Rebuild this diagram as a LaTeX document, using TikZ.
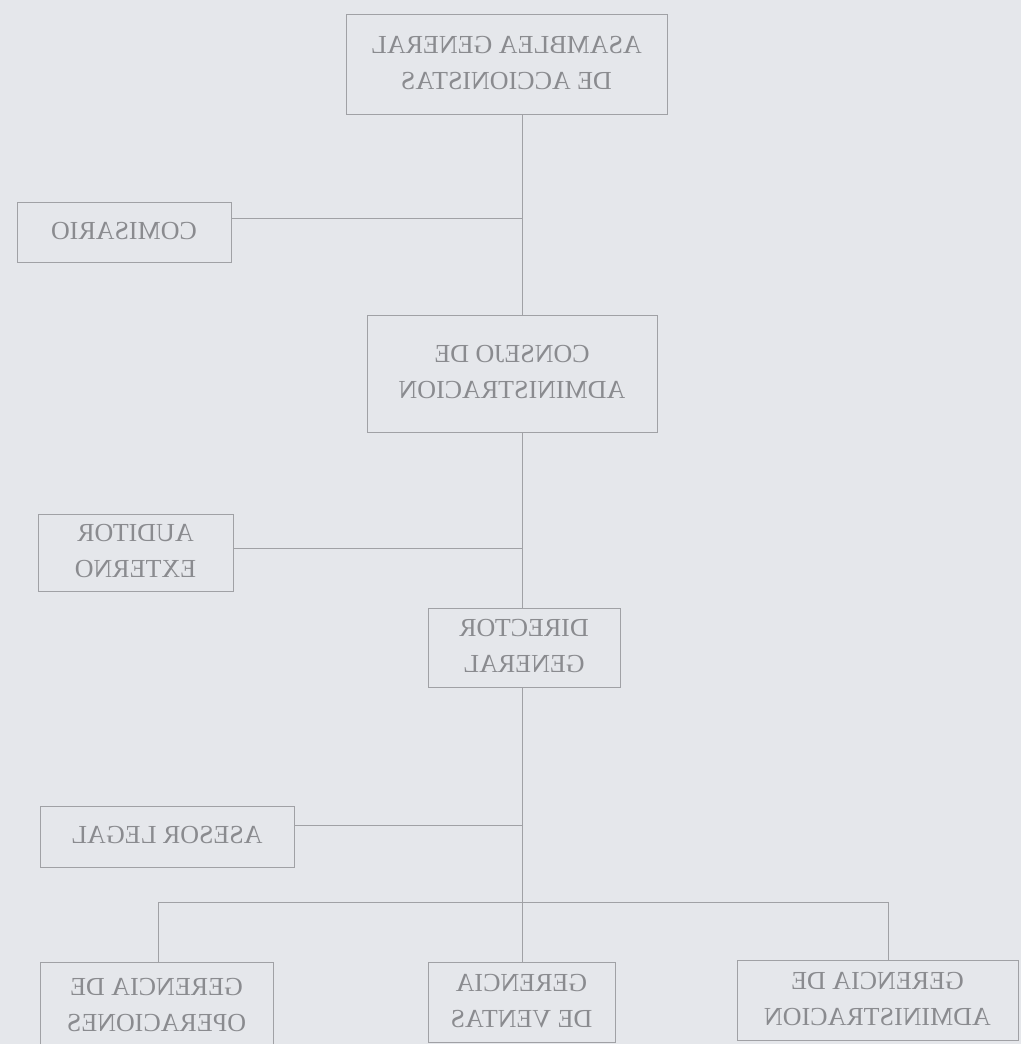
\documentclass[tikz,border=0pt]{standalone}
\usepackage{fontspec}
\setmainfont{Liberation Serif}
\usepackage{graphicx}
\definecolor{bgc}{RGB}{229,231,235}
\definecolor{linec}{RGB}{160,161,165}
\definecolor{textc}{RGB}{138,139,143}
\newcommand\mirr[1]{\reflectbox{\begin{tabular}{@{}c@{}}#1\end{tabular}}}
\begin{document}
\begin{tikzpicture}[x=1pt,y=-1pt,
  box/.style={draw=linec, line width=1pt, text=textc, font=\fontsize{26}{36}\selectfont, align=center, inner sep=0pt},
  conn/.style={draw=linec, line width=1pt}]
\fill[bgc] (0,0) rectangle (1021,1044);
\useasboundingbox (0,0) rectangle (1021,1044);
% nodes
\node[box, minimum width=321pt, minimum height=100pt] (asam) at (506.5,64) {\mirr{ASAMBLEA GENERAL\\DE ACCIONISTAS}};
\node[box, minimum width=214pt, minimum height=60pt] (com) at (124,232) {\mirr{COMISARIO}};
\node[box, minimum width=290pt, minimum height=117pt] (cons) at (512,373.5) {\mirr{CONSEJO DE\\ADMINISTRACION}};
\node[box, minimum width=195pt, minimum height=77pt] (aud) at (135.5,552.5) {\mirr{AUDITOR\\EXTERNO}};
\node[box, minimum width=192pt, minimum height=79pt] (dir) at (524,647.5) {\mirr{DIRECTOR\\GENERAL}};
\node[box, minimum width=254pt, minimum height=61pt] (ase) at (167,836.5) {\mirr{ASESOR LEGAL}};
\node[box, minimum width=233pt, minimum height=88pt] (ope) at (156.5,1006) {\mirr{GERENCIA DE\\OPERACIONES}};
\node[box, minimum width=187pt, minimum height=80pt] (ven) at (521.5,1002) {\mirr{GERENCIA\\DE VENTAS}};
\node[box, minimum width=281pt, minimum height=80pt] (adm) at (877.5,1000) {\mirr{GERENCIA DE\\ADMINISTRACION}};
% junctions
\coordinate (trunk) at (522,0);
\coordinate (j1) at (522,218);
\coordinate (j2) at (522,548);
\coordinate (j3) at (522,825);
\coordinate (b0) at (522,902);
\coordinate (b1) at (158,902);
\coordinate (b2) at (888,902);
% connectors
\draw[conn] (asam.south -| trunk) -- (cons.north -| trunk);
\draw[conn] (com.east |- j1) -- (j1);
\draw[conn] (cons.south -| trunk) -- (dir.north -| trunk);
\draw[conn] (aud.east |- j2) -- (j2);
\draw[conn] (dir.south -| trunk) -- (ven.north -| trunk);
\draw[conn] (ase.east |- j3) -- (j3);
\draw[conn] (ope.north -| b1) -- (b1) -- (b2) -- (adm.north -| b2);
\end{tikzpicture}
\end{document}
